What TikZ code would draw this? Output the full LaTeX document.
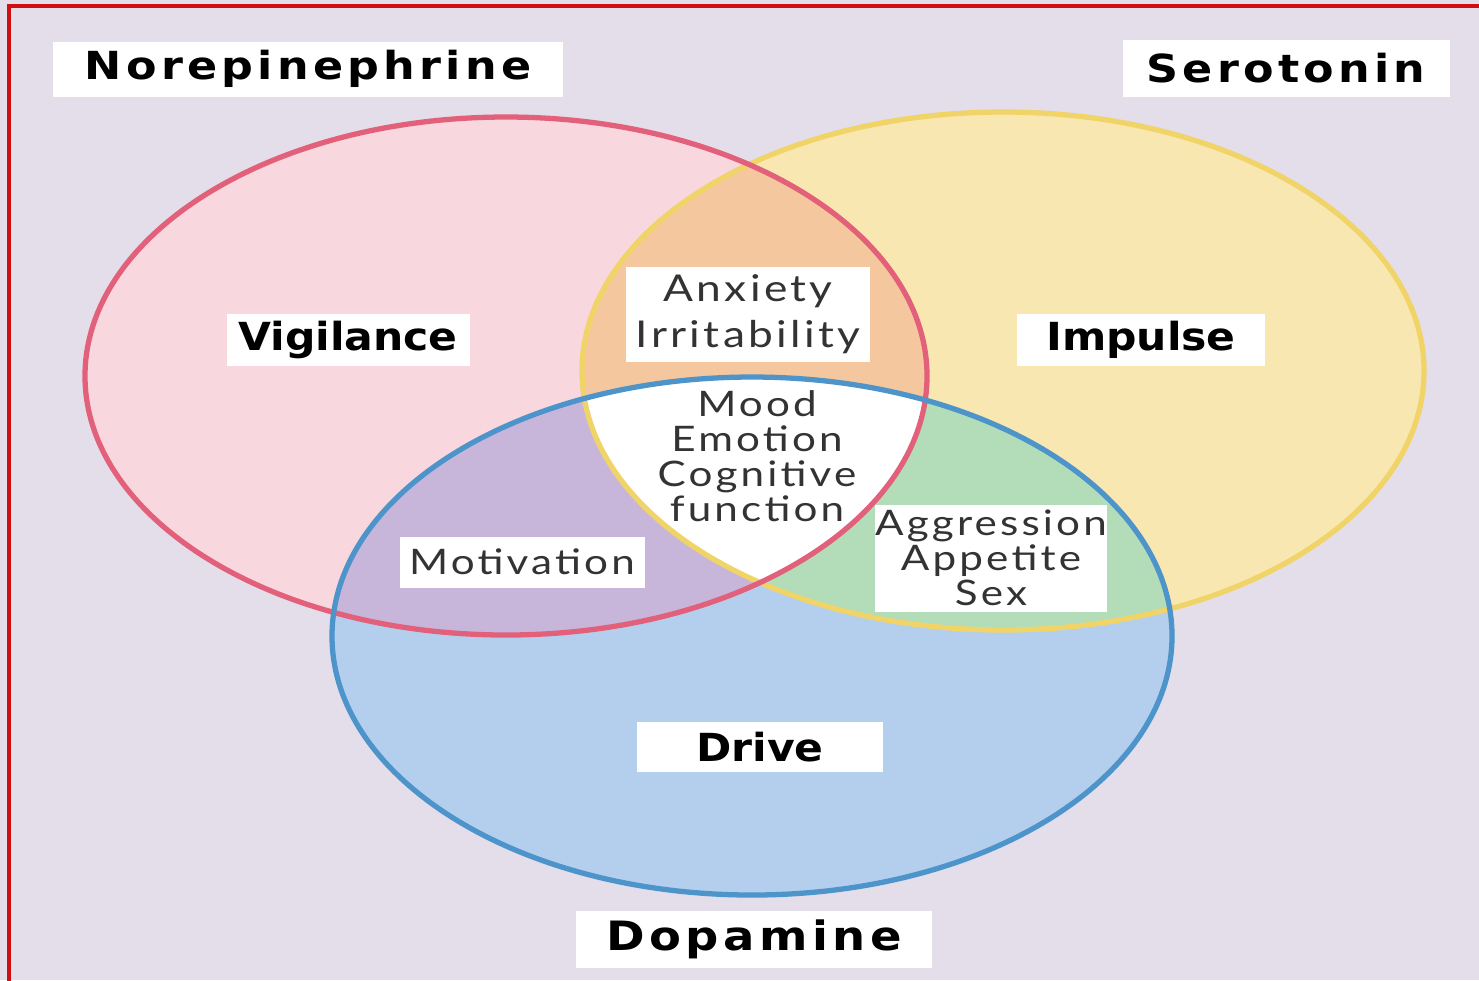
\documentclass[tikz,border=0pt]{standalone}
\usepackage{fontspec}
\usetikzlibrary{positioning}
\newfontfamily\headfont{DejaVu Sans}[FakeStretch=1.15, LetterSpace=11]
\newfontfamily\midfont{DejaVu Sans}[FakeStretch=1.1]
\newfontfamily\thinfont{Lato}[FakeStretch=1.2, LetterSpace=9]
\definecolor{bg}{HTML}{E3DEEA}
\definecolor{frame}{HTML}{D01010}
\definecolor{NEfill}{HTML}{F8D8DE}
\definecolor{NEline}{HTML}{E2607A}
\definecolor{SEfill}{HTML}{F9E7B2}
\definecolor{SEline}{HTML}{F0D468}
\definecolor{DAfill}{HTML}{B4CFEE}
\definecolor{DAline}{HTML}{4D94CB}
\definecolor{NS}{HTML}{F4C79E}
\definecolor{ND}{HTML}{C8B5DA}
\definecolor{SD}{HTML}{B3DCB9}
\newcommand\nepath{(5.06,-3.76) ellipse [x radius=4.21, y radius=2.59]}
\newcommand\sepath{(10.03,-3.71) ellipse [x radius=4.21, y radius=2.59]}
\newcommand\dapath{(7.52,-6.36) ellipse [x radius=4.20, y radius=2.59]}

\begin{document}
\begin{tikzpicture}[
    head/.style = {fill=white, inner sep=0pt,
      font=\headfont\bfseries\fontsize{11}{11}\selectfont},
    mid/.style = {fill=white, inner sep=0pt,
      font=\midfont\bfseries\fontsize{11}{11}\selectfont},
    thin/.style = {fill=white, inner sep=0pt, align=center,
      text=black!80, font=\thinfont\fontsize{10}{10}\selectfont}]
      \useasboundingbox (0,0) rectangle (14.79,-9.80);
      \fill[bg] (0,0) rectangle (14.79,-9.80);
      \draw[frame, line width=1.2pt] (0.09,-0.06) rectangle (14.95,-9.95);
      
      \fill[NEfill] \nepath;
      \fill[SEfill] \sepath;
      \fill[DAfill] \dapath;
      \begin{scope}
        \clip \nepath;
        \fill[NS] \sepath;
        \fill[ND] \dapath;
      \end{scope}
      \begin{scope}
        \clip \sepath;
        \fill[SD] \dapath;
        \clip \nepath;
        \fill[white] \dapath;
      \end{scope}
      \draw[SEline, line width=1.5pt] \sepath;
      \draw[NEline, line width=1.5pt] \nepath;
      \draw[DAline, line width=1.5pt] \dapath;
      
      \node[head, minimum width=5.10cm, minimum height=0.55cm]
      (NE) at (3.08,-0.69) {Norepinephrine};
      \node[head, minimum width=3.27cm, minimum height=0.57cm]
      (SE) at (12.86,-0.68) {Serotonin};
      \node[head, minimum width=3.56cm, minimum height=0.57cm,
      font=\headfont\bfseries\fontsize{11.5}{11.5}\selectfont]
      (DA) at (7.54,-9.39) {Dopamine};
      
      \node[mid, minimum width=2.43cm, minimum height=0.52cm]
      (vig) at (3.48,-3.40) {Vigilance};
      \node[mid, minimum width=2.48cm, minimum height=0.52cm]
      (imp) at (11.41,-3.40) {Impulse};
      \node[mid, minimum width=2.46cm, minimum height=0.50cm]
      (drv) at (7.60,-7.47) {Drive};
      
      \node[thin, minimum width=2.44cm, minimum height=0.95cm,
      font=\thinfont\fontsize{10.5}{10.5}\selectfont]
      (anx) at (7.48,-3.14) {Anxiety\\[2.6pt]Irritability};
      \node[thin, minimum width=2.45cm, minimum height=0.51cm]
      (mot) at (5.22,-5.62) {Motivation};
      \node[thin, minimum width=2.30cm, minimum height=1.07cm]
      (agg) at (9.91,-5.58) {Aggression\\Appetite\\Sex};
      \node[thin, fill=none]
      (mood) at (7.57,-4.56) {Mood\\Emotion\\Cognitive\\function};
    \end{tikzpicture}
\end{document}
